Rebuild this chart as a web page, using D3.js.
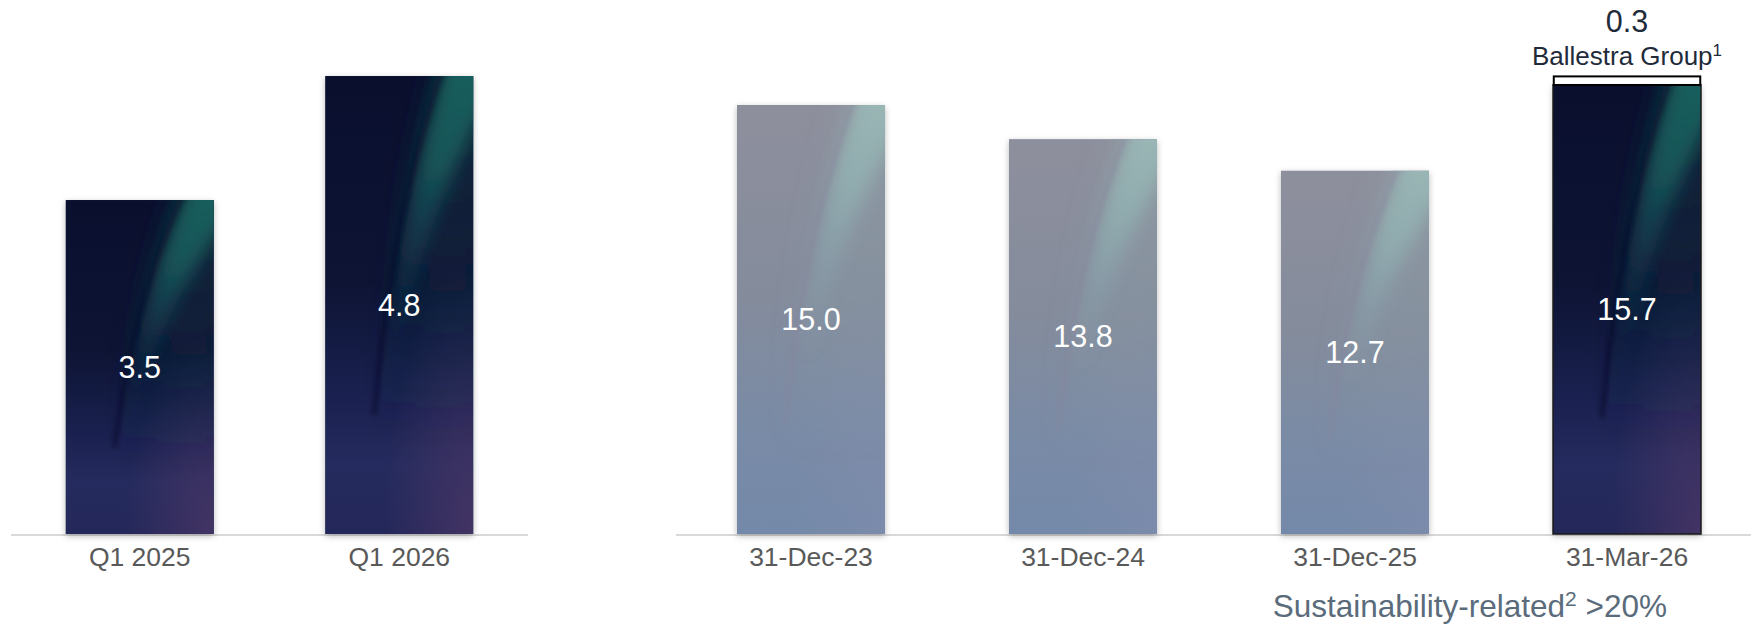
<!DOCTYPE html>
<html><head><meta charset="utf-8">
<script src="https://cdn.jsdelivr.net/npm/d3@7"></script>
<style>
body{margin:0;background:#fff;}
svg{display:block;font-family:"Liberation Sans",Arial,sans-serif;}
</style>
</head><body><svg id="c" width="1751" height="624"></svg>
<script>
// ---- data ----
const leftCategories = ["Q1 2025", "Q1 2026"];
const leftValues = [3.5, 4.8];
const rightCategories = ["31-Dec-23", "31-Dec-24", "31-Dec-25", "31-Mar-26"];
const rightValues = [15.0, 13.8, 12.7, 15.7];
const rightAddOn = [0, 0, 0, 0.3];
const rightFaded = [true, true, true, false];
const addOnLabel = "Ballestra Group";
const addOnNote = "1";
const footnoteText = "Sustainability-related";
const footnoteNote = "2";
const footnoteValue = " >20%";

const svg = d3.select("#c");
const W = 1751, base = 534;
const defs = svg.append("defs");

function vgrad(id, stops) {
  const g = defs.append("linearGradient").attr("id", id).attr("x1", 0).attr("y1", 0).attr("x2", 0).attr("y2", 1);
  stops.forEach(s => g.append("stop").attr("offset", s[0]).attr("stop-color", s[1]).attr("stop-opacity", s[2] == null ? 1 : s[2]));
}
vgrad("darkBase", [[0, "#0a0f2e"], [0.45, "#0d1434"], [0.7, "#1a2150"], [0.85, "#252b5e"], [1, "#24275a"]]);
vgrad("fadeBase", [[0, "#8e8f9d"], [0.45, "#848c9c"], [0.75, "#7a8ba6"], [1, "#7489a9"]]);
vgrad("darkTeal", [[0, "#1b6a64", 0.85], [0.3, "#17605f", 0.8], [0.55, "#144a58", 0.45], [0.8, "#123e50", 0.0]]);
vgrad("fadeTeal", [[0, "#9ebdb9", 0.85], [0.3, "#92b3b3", 0.75], [0.55, "#88a8b0", 0.4], [0.8, "#86a4b0", 0.0]]);
vgrad("darkHaze", [[0, "#113a40", 0.7], [0.5, "#112c40", 0.4], [1, "#112c40", 0]]);
vgrad("fadeHaze", [[0, "#8fa6a8", 0.5], [0.5, "#8aa0a8", 0.25], [1, "#8aa0a8", 0]]);
function rgrad(id, color, op) {
  const g = defs.append("radialGradient").attr("id", id).attr("cx", 1).attr("cy", 1).attr("r", 0.6);
  g.append("stop").attr("offset", 0).attr("stop-color", color).attr("stop-opacity", op);
  g.append("stop").attr("offset", 1).attr("stop-color", color).attr("stop-opacity", 0);
}
rgrad("darkPurple", "#4a3766", 0.8);
rgrad("fadePurple", "#8a8fb0", 0.3);

const blur = defs.append("filter").attr("id", "blur").attr("x", "-50%").attr("y", "-50%").attr("width", "200%").attr("height", "200%");
blur.append("feGaussianBlur").attr("stdDeviation", 8);
const blur2 = defs.append("filter").attr("id", "blur2").attr("x", "-50%").attr("y", "-50%").attr("width", "200%").attr("height", "200%");
blur2.append("feGaussianBlur").attr("stdDeviation", 2.5);
const blur3 = defs.append("filter").attr("id", "blur3").attr("x", "-50%").attr("y", "-50%").attr("width", "200%").attr("height", "200%");
blur3.append("feGaussianBlur").attr("stdDeviation", 14);
const shadow = defs.append("filter").attr("id", "shadow").attr("x", "-20%").attr("y", "-20%").attr("width", "140%").attr("height", "140%");
shadow.append("feDropShadow").attr("dx", 0).attr("dy", 2).attr("stdDeviation", 3).attr("flood-color", "#000").attr("flood-opacity", 0.28);

let clipId = 0;
function drawBar(g, x, y, w, h, faded) {
  const id = "clip" + (clipId++);
  defs.append("clipPath").attr("id", id).append("rect").attr("x", x).attr("y", y).attr("width", w).attr("height", h);
  g.append("rect").attr("x", x).attr("y", y).attr("width", w).attr("height", h)
    .attr("fill", faded ? "#7d8aa0" : "#151a40").attr("filter", "url(#shadow)");
  const inner = g.append("g").attr("clip-path", `url(#${id})`);
  inner.append("rect").attr("x", x).attr("y", y).attr("width", w).attr("height", h)
    .attr("fill", faded ? "url(#fadeBase)" : "url(#darkBase)");
  inner.append("rect").attr("x", x).attr("y", y).attr("width", w).attr("height", h)
    .attr("fill", faded ? "url(#fadePurple)" : "url(#darkPurple)");
  const P = (u, v) => [x + u * w, y + v * h];
  // broad haze right of the curve
  const haze = `M${P(0.8, -0.05)} C${P(0.55, 0.2)} ${P(0.42, 0.45)} ${P(0.34, 0.8)} L${P(1.2, 0.8)} L${P(1.2, -0.05)} Z`;
  inner.append("path").attr("d", haze)
    .attr("fill", faded ? "url(#fadeHaze)" : "url(#darkHaze)").attr("filter", "url(#blur3)");
  // bright band
  const band = `M${P(0.84, -0.05)} C${P(0.6, 0.2)} ${P(0.45, 0.45)} ${P(0.37, 0.75)}` +
    ` C${P(0.48, 0.6)} ${P(0.62, 0.35)} ${P(1.1, 0.05)} L${P(1.1, -0.05)} Z`;
  inner.append("path").attr("d", band)
    .attr("fill", faded ? "url(#fadeTeal)" : "url(#darkTeal)").attr("filter", "url(#blur)");
  const off = 0.04;
  const line = `M${P(0.84 - off, -0.02)} C${P(0.6 - off, 0.2)} ${P(0.45 - off, 0.45)} ${P(0.37 - off, 0.74)}`;
  inner.append("path").attr("d", line).attr("fill", "none")
    .attr("stroke", faded ? "#85839a" : "#060920").attr("stroke-width", 4).attr("stroke-opacity", 0.55)
    .attr("filter", "url(#blur2)");
}

// ---- left panel ----
const xL = d3.scaleBand().domain(leftCategories).range([11, 528]).paddingInner(0.43).paddingOuter(0.211);
const yL = d3.scaleLinear().domain([0, 5]).range([base, 57]);
svg.append("line").attr("x1", 11).attr("x2", 528).attr("y1", base + 1).attr("y2", base + 1)
  .attr("stroke", "#d9d9d9").attr("stroke-width", 2);
const gL = svg.append("g");
leftCategories.forEach((cat, i) => {
  const x = xL(cat), w = xL.bandwidth(), y = yL(leftValues[i]), h = base - y;
  drawBar(gL, x, y, w, h, false);
  gL.append("text").attr("x", x + w / 2).attr("y", (y + base) / 2).attr("dy", "0.35em")
    .attr("text-anchor", "middle").attr("fill", "#fff").attr("font-size", 30.5).text(leftValues[i].toFixed(1));
});
const axL = svg.append("g").attr("transform", `translate(0,${base})`)
  .call(d3.axisBottom(xL).tickSize(0).tickPadding(13));
axL.select(".domain").remove();
axL.selectAll("text").attr("font-size", 26.5).attr("fill", "#595959").attr("font-family", "Liberation Sans, Arial, sans-serif");

// ---- right panel ----
const xR = d3.scaleBand().domain(rightCategories).range([669, 1769]).paddingInner(0.456).paddingOuter(0.25);
const yR = d3.scaleLinear().domain([0, 16]).range([base, 76.4]);
svg.append("line").attr("x1", 676).attr("x2", W).attr("y1", base + 1).attr("y2", base + 1)
  .attr("stroke", "#d9d9d9").attr("stroke-width", 2);
const gR = svg.append("g");
rightCategories.forEach((cat, i) => {
  const x = xR(cat), w = xR.bandwidth(), v = rightValues[i], y = yR(v), h = base - y;
  drawBar(gR, x, y, w, h, rightFaded[i]);
  gR.append("text").attr("x", x + w / 2).attr("y", (y + base) / 2).attr("dy", "0.35em")
    .attr("text-anchor", "middle").attr("fill", "#fff").attr("font-size", 30.5).text(v.toFixed(1));
  if (!rightFaded[i]) {
    gR.append("rect").attr("x", x).attr("y", y).attr("width", w).attr("height", h)
      .attr("fill", "none").attr("stroke", "#1b1b1b").attr("stroke-width", 1.5);
  }
  if (rightAddOn[i] > 0) {
    const yTop = yR(v + rightAddOn[i]);
    gR.append("rect").attr("x", x + 0.75).attr("y", yTop).attr("width", w - 1.5).attr("height", y - yTop)
      .attr("fill", "#fff").attr("stroke", "#000").attr("stroke-width", 2);
    const lbl = gR.append("text").attr("x", x + w / 2).attr("y", yTop - 11.5)
      .attr("text-anchor", "middle").attr("fill", "#1f2b3a").attr("font-size", 26);
    lbl.append("tspan").text(addOnLabel);
    lbl.append("tspan").attr("font-size", 17).attr("dy", -9).text(addOnNote);
    gR.append("text").attr("x", x + w / 2).attr("y", yTop - 44)
      .attr("text-anchor", "middle").attr("fill", "#1f2b3a").attr("font-size", 30.5).text(rightAddOn[i].toFixed(1));
  }
});
const axR = svg.append("g").attr("transform", `translate(0,${base})`)
  .call(d3.axisBottom(xR).tickSize(0).tickPadding(13));
axR.select(".domain").remove();
axR.selectAll("text").attr("font-size", 26.5).attr("fill", "#595959").attr("font-family", "Liberation Sans, Arial, sans-serif");

// footnote
const fn = svg.append("text").attr("x", 1667).attr("y", 617).attr("text-anchor", "end")
  .attr("fill", "#5a6b7b").attr("font-size", 31.5);
fn.append("tspan").text(footnoteText);
fn.append("tspan").attr("font-size", 21).attr("dy", -11).text(footnoteNote);
fn.append("tspan").attr("dy", 11).text(footnoteValue);
</script>
</body></html>
